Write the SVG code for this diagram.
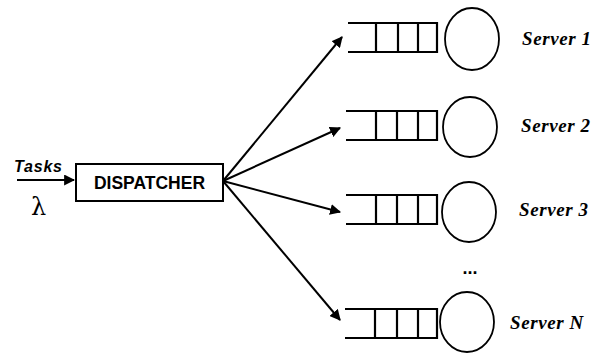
<svg xmlns="http://www.w3.org/2000/svg" width="595" height="356" viewBox="0 0 595 356">
  <defs>
    <marker id="arrow" viewBox="0 0 10 10" refX="9" refY="5" markerWidth="11" markerHeight="11" markerUnits="userSpaceOnUse" orient="auto">
      <path d="M0,0 L10,5 L0,10 z" fill="#000"/>
    </marker>
    <style>
      .ln { stroke: #000; stroke-width: 2; fill: none; }
      .q { stroke: #000; stroke-width: 2.2; fill: none; }
      .srv { stroke: #000; stroke-width: 1.8; fill: #fff; }
      .lbl { font-family: "Liberation Serif", serif; font-style: italic; font-weight: bold; font-size: 19px; letter-spacing: 0.6px; fill: #000; }
      .sans { font-family: "Liberation Sans", Arial, sans-serif; font-weight: bold; fill: #000; }
    </style>
  </defs>
  <rect width="595" height="356" fill="#fff"/>

  <!-- incoming tasks -->
  <g id="input">
    <text class="sans" x="14" y="172" font-size="16" font-style="italic" textLength="48">Tasks</text>
    <line class="ln" x1="17" y1="180" x2="74" y2="180" marker-end="url(#arrow)"/>
    <text x="31" y="215" font-family="DejaVu Serif, serif" font-size="24" fill="#000">λ</text>
  </g>

  <g id="dispatcher">
    <rect x="76" y="164" width="147" height="37" fill="#fff" stroke="#000" stroke-width="2"/>
    <text class="sans" x="149.5" y="189" font-size="17.5" text-anchor="middle">DISPATCHER</text>
  </g>

  <!-- dispatch arrows -->
  <g id="connectors">
    <line class="ln" x1="223" y1="181" x2="342" y2="37" marker-end="url(#arrow)"/>
    <line class="ln" x1="223" y1="181" x2="340" y2="128" marker-end="url(#arrow)"/>
    <line class="ln" x1="223" y1="181" x2="340" y2="212" marker-end="url(#arrow)"/>
    <line class="ln" x1="223" y1="181" x2="340" y2="320" marker-end="url(#arrow)"/>
  </g>

  <g id="server1">
    <path class="q" d="M348,23 H437 V52 H348 M376,23 V52 M398,23 V52 M418,23 V52"/>
    <ellipse class="srv" cx="472" cy="39" rx="27" ry="31"/>
    <text class="lbl" x="522" y="45">Server 1</text>
  </g>

  <g id="server2">
    <path class="q" d="M346,111 H437 V140 H346 M376,111 V140 M397,111 V140 M418,111 V140"/>
    <ellipse class="srv" cx="470" cy="127" rx="27" ry="30"/>
    <text class="lbl" x="521" y="132">Server 2</text>
  </g>

  <g id="server3">
    <path class="q" d="M346,195 H437 V224 H346 M376,195 V224 M397,195 V224 M418,195 V224"/>
    <ellipse class="srv" cx="469" cy="212" rx="27" ry="30"/>
    <text class="lbl" x="519" y="216">Server 3</text>
  </g>

  <text class="sans" x="470" y="274" font-size="18" text-anchor="middle">...</text>

  <g id="serverN">
    <path class="q" d="M345,309 H437 V338 H345 M375,309 V338 M397,309 V338 M418,309 V338"/>
    <ellipse class="srv" cx="467" cy="322" rx="27" ry="30"/>
    <text class="lbl" x="510" y="329">Server N</text>
  </g>
</svg>
